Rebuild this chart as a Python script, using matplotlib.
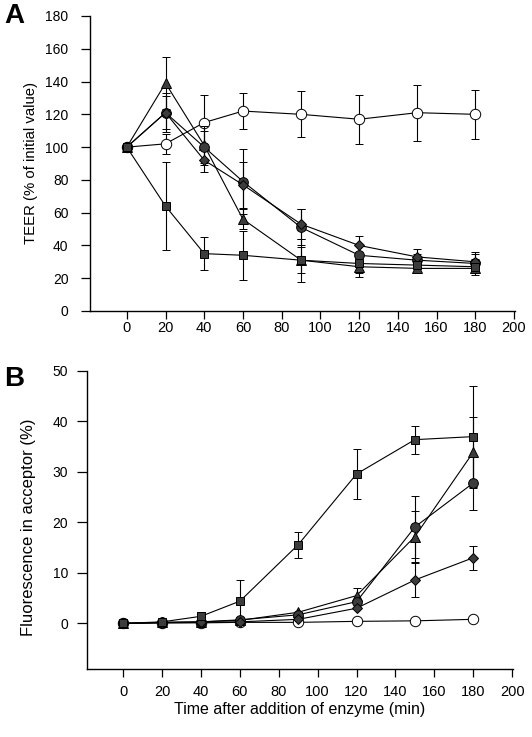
import matplotlib
matplotlib.use("Agg")
import matplotlib.pyplot as plt

plt.rcParams['font.family'] = ['Liberation Sans', 'DejaVu Sans']

t = [0, 20, 40, 60, 90, 120, 150, 180]
xticks = [0, 20, 40, 60, 80, 100, 120, 140, 160, 180, 200]

# Panel A: TEER (% of initial value)
a_open = [100, 102, 115, 122, 120, 117, 121, 120]
a_open_err = [0, 6, 17, 11, 14, 15, 17, 15]
a_tri = [100, 139, 101, 56, 31, 27, 26, 26]
a_tri_err = [0, 16, 12, 6, 8, 6, 3, 3]
a_circ = [100, 121, 100, 79, 51, 34, 31, 29]
a_circ_err = [0, 12, 10, 20, 11, 7, 4, 6]
a_diam = [100, 121, 92, 77, 53, 40, 33, 30]
a_diam_err = [0, 10, 7, 14, 9, 6, 5, 6]
a_sq = [100, 64, 35, 34, 31, 29, 28, 27]
a_sq_err = [0, 27, 10, 15, 13, 6, 4, 5]

# Panel B: Fluorescence in acceptor (%)
b_open = [0, 0.1, 0.1, 0.2, 0.2, 0.4, 0.5, 0.8]
b_open_err = [0, 0, 0, 0, 0, 0, 0, 0]
b_tri = [0, 0.2, 0.3, 0.6, 2.2, 5.5, 17.2, 33.9]
b_tri_err = [0, 0, 0, 0, 0, 1.5, 5, 7]
b_circ = [0, 0.2, 0.3, 0.7, 1.7, 4.3, 19.1, 27.8]
b_circ_err = [0, 0, 0, 0, 0, 0, 6.2, 5.4]
b_diam = [0, 0.1, 0.2, 0.3, 0.8, 3.0, 8.6, 13.0]
b_diam_err = [0, 0, 0, 0, 0, 0, 3.3, 2.4]
b_sq = [0, 0.3, 1.4, 4.4, 15.6, 29.6, 36.4, 37.0]
b_sq_err = [0, 0, 0.9, 4.2, 2.6, 5.0, 2.8, 10.0]

fill = '#3c3c3c'
fig = plt.figure(figsize=(5.32, 7.37), dpi=100)

axA = fig.add_axes([90/532, 426/737, 425/532, 295/737])
axB = fig.add_axes([86.7/532, 67.7/737, 426/532, 298.3/737])


def draw(ax, series):
    for y, e, mk, fc, ms, z in series:
        ax.errorbar(t, y, yerr=e, color='black', lw=0.8, elinewidth=0.8,
                    capsize=3.2, capthick=0.8, marker=mk, markersize=ms,
                    markerfacecolor=fc, markeredgecolor='black',
                    markeredgewidth=0.7, zorder=z)


draw(axA, [
    (a_open, a_open_err, 'o', 'white', 7.5, 2),
    (a_tri, a_tri_err, '^', fill, 7, 3),
    (a_circ, a_circ_err, 'o', fill, 7, 3),
    (a_diam, a_diam_err, 'D', fill, 5.5, 3),
    (a_sq, a_sq_err, 's', fill, 6.3, 3),
])
draw(axB, [
    (b_open, b_open_err, 'o', 'white', 7.5, 2),
    (b_tri, b_tri_err, '^', fill, 7, 3),
    (b_circ, b_circ_err, 'o', fill, 7, 3),
    (b_diam, b_diam_err, 'D', fill, 5.5, 3),
    (b_sq, b_sq_err, 's', fill, 6.3, 3),
])

for ax in (axA, axB):
    ax.spines['top'].set_visible(False)
    ax.spines['right'].set_visible(False)
    ax.spines['left'].set_linewidth(1.0)
    ax.spines['bottom'].set_linewidth(1.0)
    ax.set_xticks(xticks)

axA.tick_params(axis='y', direction='out', length=6.5, width=0.9,
                labelsize=10, pad=9)
axA.tick_params(axis='x', direction='out', length=5.5, width=0.9,
                labelsize=10.5, pad=1.5)
axB.tick_params(axis='y', direction='out', length=7, width=0.9,
                labelsize=10, pad=6.5)
axB.tick_params(axis='x', direction='out', length=5.5, width=0.9,
                labelsize=10.5, pad=6)

axA.set_xlim(-19, 200.5)
axA.set_ylim(0, 180)
axA.set_yticks(range(0, 181, 20))
axA.set_ylabel('TEER (% of initial value)', fontsize=10.7)
axA.yaxis.set_label_coords(-0.122, 0.5)

axB.set_xlim(-18.8, 200.3)
axB.set_ylim(-9.1, 50)
axB.set_yticks(range(0, 51, 10))
axB.set_ylabel('Fluorescence in acceptor (%)', fontsize=12)
axB.yaxis.set_label_coords(-0.119, 0.475)
axB.set_xlabel('Time after addition of enzyme (min)', fontsize=11.5,
               labelpad=2)

fig.text(4/532, 1 - 16/737, 'A', fontsize=20, fontweight='bold',
         va='center', ha='left')
fig.text(4/532, 1 - 379/737, 'B', fontsize=20, fontweight='bold',
         va='center', ha='left')

fig.savefig('out.png', dpi=100)
